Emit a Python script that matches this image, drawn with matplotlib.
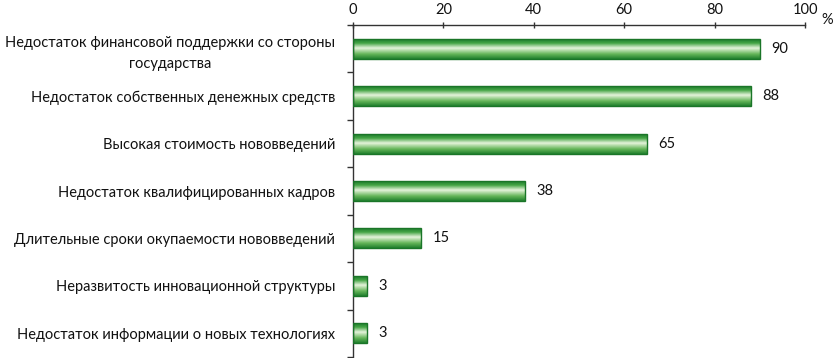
import numpy as np
import matplotlib
matplotlib.use("Agg")
import matplotlib.pyplot as plt
from matplotlib.colors import LinearSegmentedColormap
from matplotlib.patches import Rectangle

categories = [
    "Недостаток финансовой поддержки со стороны\nгосударства",
    "Недостаток собственных денежных средств",
    "Высокая стоимость нововведений",
    "Недостаток квалифицированных кадров",
    "Длительные сроки окупаемости нововведений",
    "Неразвитость инновационной структуры",
    "Недостаток информации о новых технологиях",
]
values = [90, 88, 65, 38, 15, 3, 3]
xticks = [0, 20, 40, 60, 80, 100]

plt.rcParams['font.family'] = ['Lato', 'DejaVu Sans']

fig = plt.figure(figsize=(8.34, 3.58), dpi=100)
ax = fig.add_axes([353/834, 1/358, (805-353)/834, (333-1)/358])

n = len(categories)
ypos = np.arange(n)
bar_h = 0.42

cmap = LinearSegmentedColormap.from_list(
    "g", [(0.0, "#1e7d2e"), (0.2, "#45a545"), (0.45, "#e6f4dc"),
          (0.75, "#66b65a"), (1.0, "#21802e")])
grad = np.linspace(0, 1, 64).reshape(-1, 1)

bars = ax.barh(ypos, values, height=bar_h, color="none",
               edgecolor="#1a7528", linewidth=1.0, zorder=3)
for b in bars:
    x0, y0 = b.get_x(), b.get_y()
    w, h = b.get_width(), b.get_height()
    im = ax.imshow(grad, cmap=cmap, aspect="auto",
                   extent=(x0, x0 + w, y0 + h, y0), zorder=2,
                   interpolation="bilinear")
    clip = Rectangle((x0, y0), w, h, transform=ax.transData)
    im.set_clip_path(clip)

for y, v in zip(ypos, values):
    ax.text(v + 2.6, y, str(v), va="center", ha="left", fontsize=10.5,
            color="#111111")

ax.set_xlim(0, 100)
ax.set_ylim(n - 0.5, -0.5)
ax.set_aspect("auto")

ax.xaxis.tick_top()
ax.set_xticks(xticks)
ax.set_xticklabels([str(t) for t in xticks], fontsize=10.5, color="#111111")
ax.tick_params(axis="x", direction="inout", length=5, width=1,
               color="#333333", pad=3)

ax.set_yticks(np.arange(n + 1) - 0.5)
ax.set_yticklabels([])
ax.set_yticks(ypos, minor=True)
ax.set_yticklabels(categories, minor=True, fontsize=10.5, color="#111111",
                   multialignment="center", linespacing=1.65)
ax.tick_params(axis="y", which="major", direction="out", length=4, width=1,
               color="#333333")
ax.tick_params(axis="y", which="minor", length=0, pad=13)

for s in ["right", "bottom"]:
    ax.spines[s].set_visible(False)
for s in ["top", "left"]:
    ax.spines[s].set_color("#333333")
    ax.spines[s].set_linewidth(1)

fig.text(827/834, 1 - 20/358, "%", ha="center", va="center", fontsize=10.5,
         color="#111111")

fig.savefig("out.png", dpi=100)
